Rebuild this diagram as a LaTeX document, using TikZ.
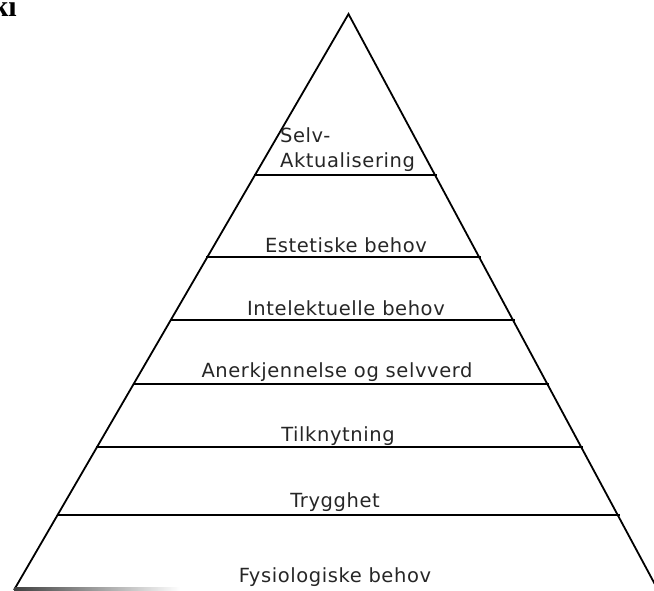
\documentclass[tikz,border=0pt]{standalone}
\usepackage{fontspec}
\setmainfont{Liberation Sans}
\newfontfamily\lvlfont[LetterSpace=3]{DejaVu Sans}
\newfontfamily\headfont{Liberation Serif}
\usetikzlibrary{calc}
\tikzset{
  side/.style={line width=1.8pt,line join=miter},
  level/.style={line width=1.8pt},
  lvltext/.style={font=\lvlfont\fontsize{19.5}{22}\selectfont,anchor=base,inner sep=0pt,text=black!85}
}

\begin{document}
\begin{tikzpicture}[x=1pt,y=-1pt]
    \useasboundingbox (0,0) rectangle (654,590);
    % Corners
    \coordinate (apex) at (348.5,14);
    \coordinate (bl) at (14,590);
    \coordinate (br) at (658,590);
    % Sides
    \draw[side] (bl) -- (apex) -- (br);
    % Base
    \shade[left color=black!75,right color=white] (14,587) rectangle (180,590);
    % Levels
    \foreach \y [count=\i] in {175,257,320,384,447,515} {
      \coordinate (l\i) at ($(apex)!{(\y-14)/576}!(bl)$);
      \coordinate (r\i) at ($(apex)!{(\y-14)/576}!(br)$);
      \draw[level] ([xshift=-1pt]l\i) -- ([xshift=2pt]r\i);
    }
    % Labels
    \node[lvltext,anchor=base west] (selv) at (280,142) {Selv-};
    \node[lvltext,anchor=base west] (akt) at (280,167) {Aktualisering};
    \node[lvltext] (estet) at (346,252) {Estetiske behov};
    \node[lvltext] (intel) at (346,315) {Intelektuelle behov};
    \node[lvltext] (anerk) at (337,377) {Anerkjennelse og selvverd};
    \node[lvltext] (tilkn) at (338,441) {Tilknytning};
    \node[lvltext] (trygg) at (335,507) {Trygghet};
    \node[lvltext] (fysio) at (335,582) {Fysiologiske behov};
    % Heading
    \node[font=\headfont\bfseries\fontsize{30}{32}\selectfont,anchor=base east,inner sep=0pt] (head) at (17,16) {ki};
  \end{tikzpicture}
\end{document}
